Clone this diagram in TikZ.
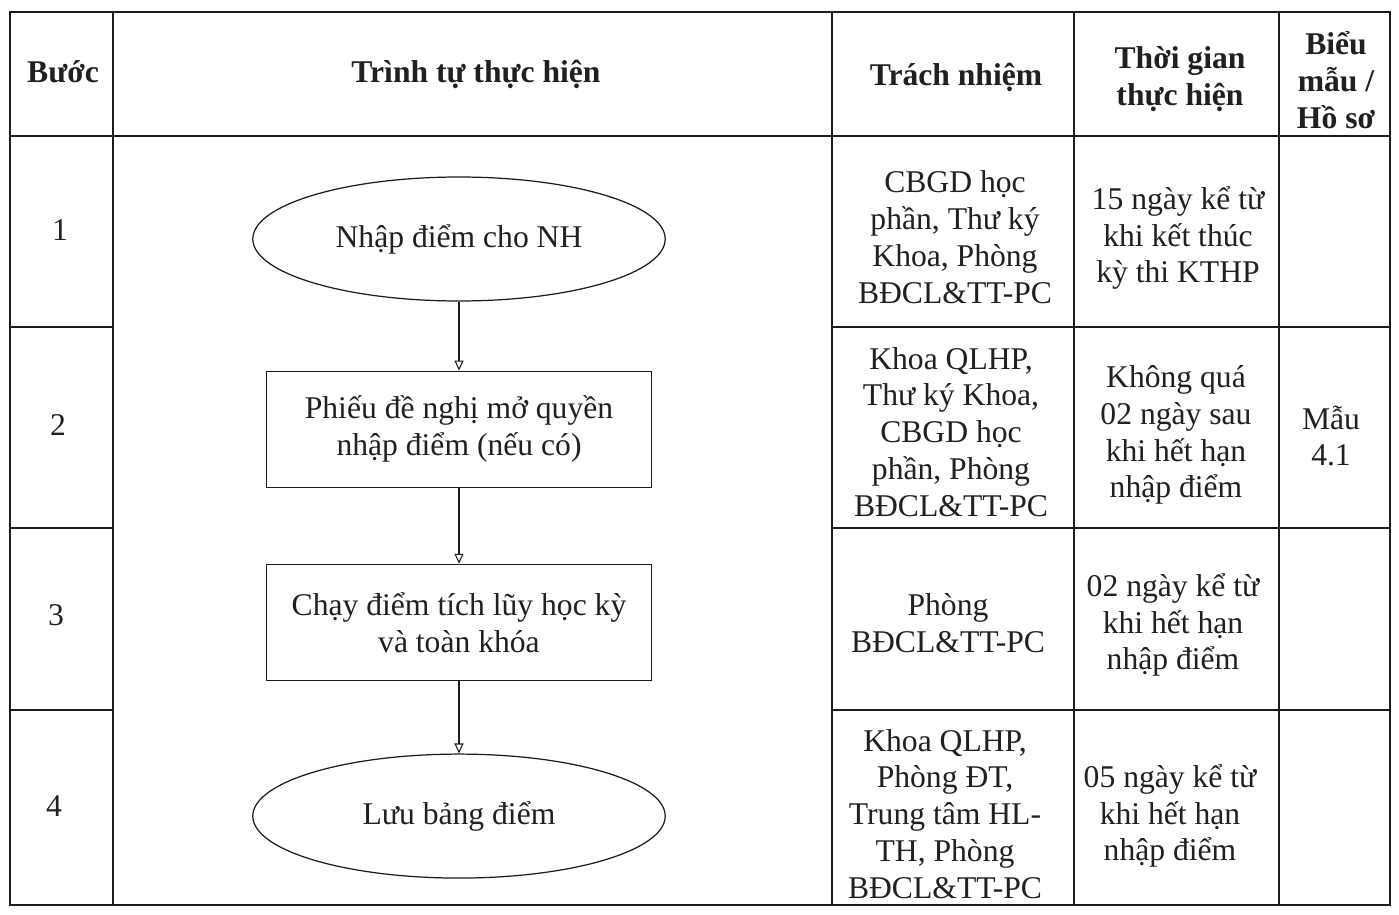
\documentclass[tikz,border=0pt]{standalone}
\usepackage{fontspec}
\setmainfont{Liberation Serif}
\usepackage{xcolor}
\usetikzlibrary{shapes.geometric, arrows.meta, positioning}
\definecolor{QT_LINE}{HTML}{1c1c1c}
\definecolor{QT_TEXT}{HTML}{202020}
\newcommand{\cellfont}{\fontsize{18}{21}\selectfont}
\tikzset{
  stepell/.style={
    ellipse, minimum width=8.25cm, minimum height=2.48cm,
    inner sep=0pt, align=center,
    draw=QT_LINE, line width=0.7pt, text=QT_TEXT, font=\cellfont},
  stepbox/.style={
    rectangle, minimum width=7.7cm, minimum height=2.32cm,
    inner sep=0pt, align=center,
    draw=QT_LINE, line width=0.7pt, text=QT_TEXT, font=\cellfont},
  cell/.style={
    inner sep=0pt, align=center, text=QT_TEXT, font=\cellfont},
  head/.style={
    inner sep=0pt, align=center, text=QT_TEXT, font=\cellfont\bfseries},
  tabline/.style={draw=QT_LINE, line width=0.8pt},
  arr/.style={-{Triangle[open,length=2mm,width=1.8mm]}, line width=0.6pt, color=QT_LINE},
}

\begin{document}
\begin{tikzpicture}[x=0.02cm, y=-0.02cm]

  \useasboundingbox[fill=white] (0,0) rectangle (1399,915);

  % table rules
  \draw[tabline] (10,12) rectangle (1390,905);
  \draw[tabline] (113,12) -- (113,905);
  \draw[tabline] (832,12) -- (832,905);
  \draw[tabline] (1074,12) -- (1074,905);
  \draw[tabline] (1279,12) -- (1279,905);
  \draw[tabline] (10,136) -- (1390,136);
  \draw[tabline] (10,327) -- (113,327) (832,327) -- (1390,327);
  \draw[tabline] (10,528) -- (113,528) (832,528) -- (1390,528);
  \draw[tabline] (10,710) -- (113,710) (832,710) -- (1390,710);

  % header
  \node[head] (hstep) at (63,72)   {Bước};
  \node[head] (hflow) at (476,74)  {Trình tự thực hiện};
  \node[head] (hresp) at (956,77)  {Trách nhiệm};
  \node[head] (htime) at (1180,79) {Thời gian\\thực hiện};
  \node[head] (hform) at (1336,80) {Biểu\\mẫu /\\Hồ sơ};

  % step numbers
  \node[cell] (n1) at (60,230) {1};
  \node[cell] (n2) at (58,425) {2};
  \node[cell] (n3) at (56,615) {3};
  \node[cell] (n4) at (54,806) {4};

  % flow
  \node[stepell] (enter) at (459,239) {Nhập điểm cho NH};
  \node[stepbox, below=1.38cm of enter] (unlock)
    {Phiếu đề nghị mở quyền\\nhập điểm (nếu có)};
  \node[stepbox, below=1.52cm of unlock] (accum)
    {Chạy điểm tích lũy học kỳ\\và toàn khóa};
  \node[stepell, below=1.45cm of accum] (store) {Lưu bảng điểm};

  \draw[arr] (enter)  -- (unlock);
  \draw[arr] (unlock) -- (accum);
  \draw[arr] (accum)  -- (store);

  % responsibility
  \node[cell] (r1resp) at (955,237)
    {CBGD học\\phần, Thư ký\\Khoa, Phòng\\BĐCL\&TT-PC};
  \node[cell] (r2resp) at (951,432)
    {Khoa QLHP,\\Thư ký Khoa,\\CBGD học\\phần, Phòng\\BĐCL\&TT-PC};
  \node[cell] (r3resp) at (948,623)
    {Phòng\\BĐCL\&TT-PC};
  \node[cell] (r4resp) at (945,814)
    {Khoa QLHP,\\Phòng ĐT,\\Trung tâm HL-\\TH, Phòng\\BĐCL\&TT-PC};

  % time
  \node[cell] (r1time) at (1178,238)
    {15 ngày kể từ\\khi kết thúc\\kỳ thi KTHP};
  \node[cell] (r2time) at (1176,435)
    {Không quá\\02 ngày sau\\khi hết hạn\\nhập điểm};
  \node[cell] (r3time) at (1173,625)
    {02 ngày kể từ\\khi hết hạn\\nhập điểm};
  \node[cell] (r4time) at (1170,816)
    {05 ngày kể từ\\khi hết hạn\\nhập điểm};

  % form
  \node[cell] (r2form) at (1331,436) {Mẫu\\4.1};

\end{tikzpicture}
\end{document}
